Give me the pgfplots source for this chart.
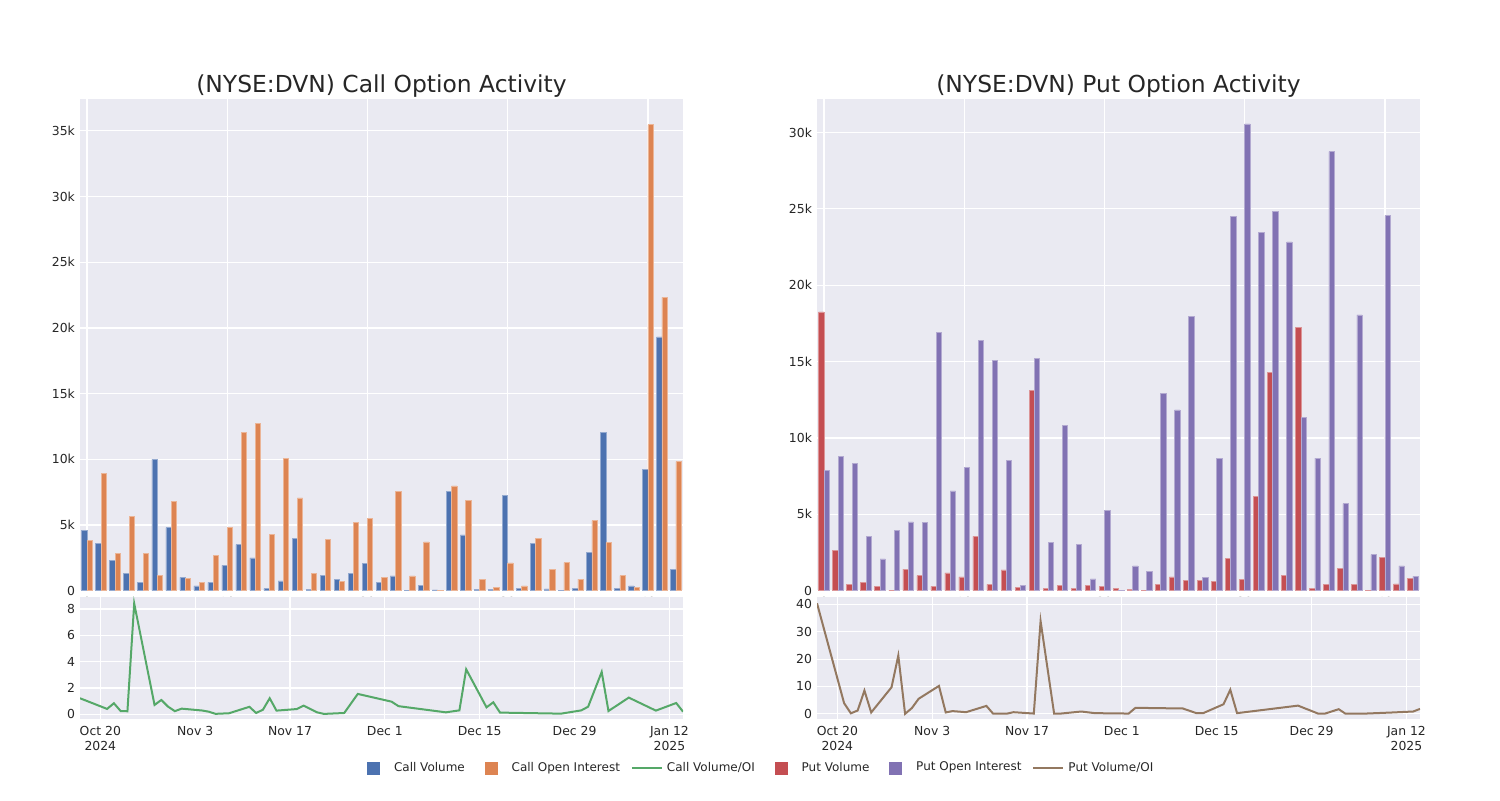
\documentclass[border=0pt]{standalone}
\usepackage{fontspec}
\setmainfont{DejaVu Sans}
\usepackage{pgfplots}
\usepackage{pgfplotstable}
\pgfplotsset{compat=1.18}

\definecolor{cvol}{HTML}{4C72B0}
\definecolor{coi}{HTML}{DD8452}
\definecolor{cratio}{HTML}{55A868}
\definecolor{pvol}{HTML}{C44E52}
\definecolor{poi}{HTML}{8172B3}
\definecolor{pratio}{HTML}{937860}
\definecolor{bg}{HTML}{EAEAF2}
\definecolor{txt}{HTML}{262626}

% idx = bar slot, day = days after Oct 20 2024
\pgfplotstableread{
idx day cvol coi cratio pvol poi pratio
0 -3 4620 3810 1.22 18250 7870 40.4
1 1 3630 8930 0.41 2620 8790 3.9
2 2 2280 2820 0.84 420 8330 0.2
3 3 1290 5660 0.25 550 3560 1.2
4 4 630 2840 0.23 260 2080 8.5
5 5 10000 1140 8.43 40 3930 0.5
6 8 4800 6800 0.71 1420 4500 9.7
7 9 1020 910 1.09 980 4460 21.3
8 10 360 630 0.58 280 16920 0.0
9 11 630 2690 0.24 1160 6540 2.1
10 12 1930 4800 0.43 900 8090 5.5
11 15 3500 12060 0.29 3560 16390 10.2
12 16 2490 12740 0.2 420 15060 0.5
13 17 150 4310 0.035 1360 8520 1.0
14 19 740 10080 0.08 220 370 0.6
15 22 3960 7060 0.57 13110 15230 2.9
16 23 100 1320 0.1 150 3150 0.05
17 24 1170 3910 0.35 330 10820 0.05
18 25 860 710 1.22 150 3020 0.05
19 26 1290 5180 0.28 370 770 0.6
20 29 2080 5480 0.4 260 5270 0.1
21 30 660 1020 0.66 130 5 33.9
22 32 1120 7540 0.15 100 1620 0.05
23 33 30 1120 0.03 40 1250 0.1
24 36 380 3710 0.1 420 12900 0.85
25 38 60 40 1.55 900 11830 0.25
26 43 7540 7970 0.96 680 17950 0.1
27 44 4240 6850 0.62 680 870 2.2
28 51 100 840 0.15 610 8680 1.95
29 53 80 280 0.3 2120 24480 0.25
30 54 7280 2110 3.42 720 30560 0.25
31 57 180 360 0.53 6190 23480 3.5
32 58 3630 3980 0.91 14300 24810 8.8
33 59 130 1620 0.13 1000 22840 0.25
34 68 50 2130 0.05 17250 11320 3.0
35 71 180 890 0.3 170 8680 0.05
36 72 2920 5330 0.58 420 28740 0.1
37 74 12030 3680 3.22 1460 5700 1.7
38 75 200 1140 0.25 420 18050 0.05
39 78 360 250 1.27 40 2360 0.1
40 82 9240 35460 0.28 2190 24550 0.5
41 85 19310 22330 0.86 440 1620 0.85
42 86 1600 9820 0.2 790 940 1.8
}\opt

\pgfplotsset{
  panel/.style={
    scale only axis, anchor=south west,
    width=301.5pt,
    axis background/.style={fill=bg},
    axis line style={draw=none},
    major tick length=0pt,
    grid=major, grid style={white, line width=0.6pt},
    tick label style={font=\fontsize{6.2}{7.4}\selectfont, text=txt},
    yticklabel style={xshift=1pt},
    scaled y ticks=false,
    /pgf/number format/assume math mode=true,
  },
  barpanel/.style={
    panel, height=245.7pt,
    xmin=-0.5, xmax=42.5, xtick={0,10,20,30,40}, xticklabel={},
    ymin=0, ybar=0pt, bar width=2.66pt,
    title style={font=\fontsize{11.7}{14}\selectfont, text=txt, anchor=base, yshift=-2.8pt},
  },
  linepanel/.style={
    panel, height=61.3pt,
    xmin=-3, xmax=86, xtick={0,14,...,84},
    xticklabels={{Oct 20\\2024},Nov 3,Nov 17,Dec 1,Dec 15,Dec 29,{Jan 12\\2025}},
    xticklabel style={align=center},
  },
}

\begin{document}
\begin{tikzpicture}
\path[use as bounding box] (0pt,0pt) rectangle (750pt,400pt);

% calls, bars
\begin{axis}[barpanel, at={(40pt,104.65pt)},
  title={(NYSE:DVN) Call Option Activity},
  ymax=37400, ytick={0,5000,...,35000},
  yticklabels={0,5k,10k,15k,20k,25k,30k,35k}]
\addplot[fill=cvol, draw=cvol!60!white, line width=0.3pt] table[x=idx, y=cvol] {\opt};
\addplot[fill=coi, draw=coi!60!white, line width=0.3pt] table[x=idx, y=coi] {\opt};
\end{axis}

% calls, volume/OI
\begin{axis}[linepanel, at={(40pt,40.35pt)},
  ymin=-0.38, ymax=8.94, ytick={0,2,4,6,8},
  legend style={at={(1.124,-0.397)}, anchor=center, draw=none, fill=none,
    font=\fontsize{6}{7.2}\selectfont, text=txt,
    /tikz/every even column/.append style={column sep=3.5pt}},
  legend columns=6]
\addplot[cratio, line width=1pt, forget plot] table[x=day, y=cratio] {\opt};
\addlegendimage{legend image code/.code={\path (-4.5pt,0pt); \fill[cvol] (0pt,-3pt) rectangle (6pt,3pt); \path (11pt,0pt);}}
\addlegendentry{Call Volume}
\addlegendimage{legend image code/.code={\path (-4.5pt,0pt); \fill[coi] (0pt,-3pt) rectangle (6pt,3pt); \path (11pt,0pt);}}
\addlegendentry{Call Open Interest}
\addlegendimage{legend image code/.code={\draw[cratio, line width=1pt] (0pt,0pt) -- (15pt,0pt);}}
\addlegendentry{Call Volume/OI}
\addlegendimage{legend image code/.code={\path (-4.5pt,0pt); \fill[pvol] (0pt,-3pt) rectangle (6pt,3pt); \path (11pt,0pt);}}
\addlegendentry{Put Volume}
\addlegendimage{legend image code/.code={\path (-4.5pt,0pt); \fill[poi] (0pt,-3pt) rectangle (6pt,3pt); \path (11pt,0pt);}}
\addlegendentry{Put Open Interest}
\addlegendimage{legend image code/.code={\draw[pratio, line width=1pt] (0pt,0pt) -- (15pt,0pt);}}
\addlegendentry{Put Volume/OI}
\end{axis}

% puts, bars
\begin{axis}[barpanel, at={(408.5pt,104.65pt)},
  title={(NYSE:DVN) Put Option Activity},
  ymax=32170, ytick={0,5000,...,30000},
  yticklabels={0,5k,10k,15k,20k,25k,30k}]
\addplot[fill=pvol, draw=pvol!60!white, line width=0.3pt] table[x=idx, y=pvol] {\opt};
\addplot[fill=poi, draw=poi!60!white, line width=0.3pt] table[x=idx, y=poi] {\opt};
\end{axis}

% puts, volume/OI
\begin{axis}[linepanel, at={(408.5pt,40.35pt)},
  ymin=-2.0, ymax=42.8, ytick={0,10,20,30,40}]
\addplot[pratio, line width=1pt] table[x=day, y=pratio] {\opt};
\end{axis}
\end{tikzpicture}
\end{document}
